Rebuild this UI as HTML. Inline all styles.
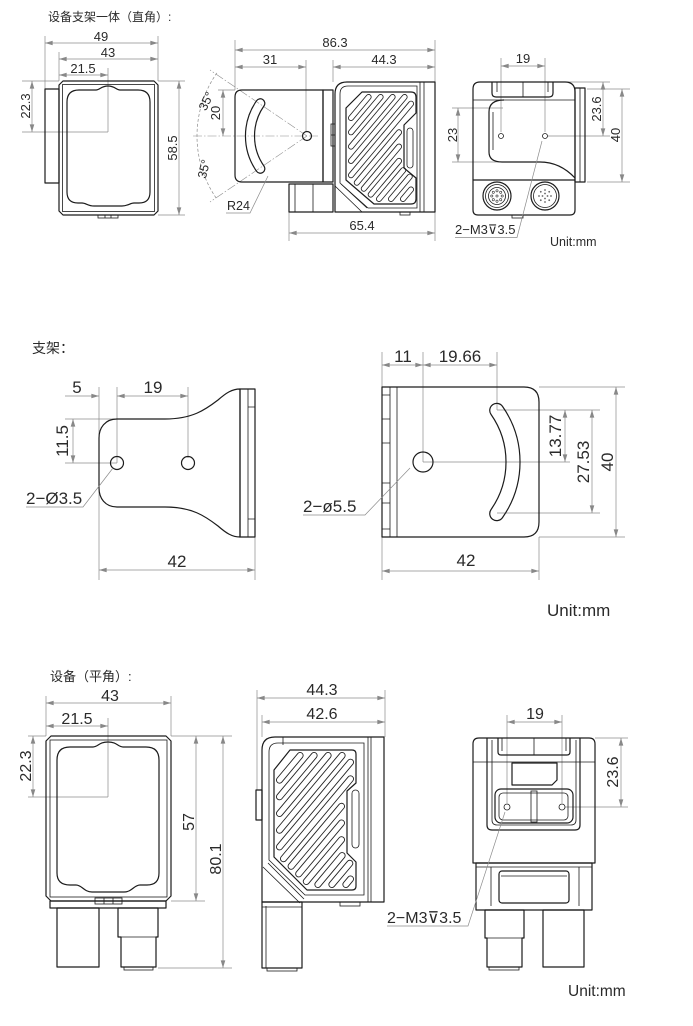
<!DOCTYPE html>
<html><head><meta charset="utf-8"><style>
html,body{margin:0;padding:0;background:#fff;}
svg{display:block;}
text{font-family:"Liberation Sans","Noto Sans CJK SC",sans-serif;fill:#2a2a2a;}
.o{fill:none;stroke:#1c1c1c;stroke-width:1.2;stroke-linejoin:round;}
.t{fill:none;stroke:#1c1c1c;stroke-width:0.8;}
.d{fill:none;stroke:#8c8c8c;stroke-width:0.7;}
.da{fill:none;stroke:#8c8c8c;stroke-width:0.7;marker-start:url(#ar);marker-end:url(#ar);}
.de{fill:none;stroke:#8c8c8c;stroke-width:0.7;marker-end:url(#ar);}
.c{fill:none;stroke:#8c8c8c;stroke-width:0.6;stroke-dasharray:9 2 1.5 2;}
.s12{font-size:12.5px;}
.s13{font-size:13px;}
.s16{font-size:16px;}
.s17{font-size:17px;}
.m{text-anchor:middle;}
.kb{fill:none;stroke:#222;stroke-linecap:round;}
.kw{fill:none;stroke:#fff;stroke-linecap:round;}
</style></head><body>
<svg width="693" height="1026" viewBox="0 0 693 1026" xmlns="http://www.w3.org/2000/svg">
<defs>
<marker id="ar" viewBox="0 0 10 6" refX="10" refY="3" markerWidth="8" markerHeight="4.6" markerUnits="userSpaceOnUse" orient="auto-start-reverse"><path d="M0,0 L10,3 L0,6 Z" fill="#888"/></marker>
</defs>

<!-- ================= SECTION 1 ================= -->
<text x="48" y="21" font-size="12">设备支架一体（直角）:</text>

<!-- front view 1 -->
<path class="d" d="M45 36V89M59 52V81M158 36V81M108 68V132M22 81H59M158 81H185M22 132H108M158 215H185"/>
<path class="da" d="M45 43H158"/>
<path class="da" d="M59 59H158"/>
<path class="da" d="M59 75H108"/>
<path class="da" d="M32 81V132"/>
<path class="da" d="M179 81V215"/>
<text class="s13 m" x="101" y="41">49</text>
<text class="s13 m" x="108" y="57">43</text>
<text class="s13 m" x="83" y="73">21.5</text>
<text class="s13 m" transform="translate(30,106) rotate(-90)">22.3</text>
<text class="s13 m" transform="translate(177,148) rotate(-90)">58.5</text>
<rect class="o" x="45" y="89" width="14" height="94"/>
<polygon class="o" points="63,81 154,81 158,85 158,211 154,215 63,215 59,211 59,85"/>
<rect class="t" x="62.5" y="84.5" width="92" height="127"/>
<path class="o" d="M79 90L96 90C100 90 101 86 108 86C115 86 116 90 120 90L138 90Q150 90 150 102L150 192Q150 203 139 203L134 203C130 203 128 206 122 206L94 206C88 206 86 203 82 203L78 203Q67 203 67 192L67 102Q67 90 79 90Z"/>
<rect class="t" x="98" y="215" width="20" height="3"/>
<path class="t" d="M105 215V218M111 215V218"/>

<!-- side view 1 -->
<path class="d" d="M235 40V90M306 60V132M333 60V82M435 40V241M289 212V241M218 90H235"/>
<path class="da" d="M235 50H435"/>
<path class="da" d="M235 67H306"/>
<path class="da" d="M333 67H435"/>
<path class="da" d="M289 233H435"/>
<path class="da" d="M223 90V136"/>
<text class="s13 m" x="335" y="47">86.3</text>
<text class="s13 m" x="270" y="64">31</text>
<text class="s13 m" x="384" y="64">44.3</text>
<text class="s13 m" x="362" y="230">65.4</text>
<text class="s13 m" transform="translate(220,113) rotate(-90)">20</text>
<path class="c" d="M193 136H318"/>
<path class="c" d="M307 136L210 70M307 136L210 202"/>
<path class="d" stroke-dasharray="3 2" d="M216.9 72.9A110 110 0 0 0 216.9 199.1"/>
<text class="s12 m" transform="translate(210,103) rotate(-64)">35°</text>
<text class="s12 m" transform="translate(208,170) rotate(-76)">35°</text>
<path class="o" d="M242 90H323V182H242Q235 182 235 175V97Q235 90 242 90Z"/>
<rect class="o" x="323" y="90" width="10" height="92"/>
<rect class="t" x="331" y="124" width="4" height="22"/>
<path class="t" d="M331 135H335"/>
<circle class="o" cx="307" cy="136" r="4.5"/>
<path class="o" d="M256.6 100.7A61.5 61.5 0 0 0 256.6 171.3A4.5 4.5 0 0 0 264 166.1A52.5 52.5 0 0 1 264 105.9A4.5 4.5 0 0 0 256.6 100.7Z"/>
<text class="s12" x="227" y="210">R24</text>
<path class="d" d="M226 213H250L268 176"/>
<path class="o" d="M347 82H435V212H335V94Q335 82 347 82Z"/>
<path class="t" d="M420 82V212M424 82V212"/>
<path class="t" d="M348 86H417V208H368L340 183V94Q340 86 348 86Z"/>
<path class="kb" stroke-width="6" d="M351 118L368.6 97M351 132.3L380.6 97M351 146.6L392.6 97M351 160.9L404.6 97M351 175.2L411 103.7M356.8 182.7L399 132.3M363.8 188.7L399 146.6M370.7 194.6L399 160.9M379 199L403.2 170.2M391 199L409.7 176.7M403 199L411 189.5"/>
<path class="kw" stroke-width="4.3" d="M351 118L368.6 97M351 132.3L380.6 97M351 146.6L392.6 97M351 160.9L404.6 97M351 175.2L411 103.7M356.8 182.7L399 132.3M363.8 188.7L399 146.6M370.7 194.6L399 160.9M379 199L403.2 170.2M391 199L409.7 176.7M403 199L411 189.5"/>
<path class="o" d="M362 92H411Q416 92 416 97V113L404 125V168L416 178V199Q416 204 411 204H374L346 180V108Z"/>
<path class="t" d="M346 108L362 92"/>
<rect class="t" x="407" y="128" width="6" height="40" rx="3"/>
<path class="t" d="M335 186L362 212M341 184L367 208"/>
<rect class="o" x="289" y="184" width="44" height="28"/>
<path class="t" d="M295 184V212M313 184V212"/>
<rect class="t" x="400" y="212" width="10" height="3"/>

<!-- rear view 1 -->
<path class="d" d="M501 58V132M545 58V132M452 108H503M452 162H545M568 82H610M548 136H610M587 89H630M587 182H630"/>
<path class="da" d="M501 66H545"/>
<path class="da" d="M458 108V162"/>
<path class="da" d="M603 82V136"/>
<path class="da" d="M622 89V182"/>
<text class="s13 m" x="523" y="63">19</text>
<text class="s13 m" transform="translate(457,135) rotate(-90)">23</text>
<text class="s13 m" transform="translate(601,109) rotate(-90)">23.6</text>
<text class="s13 m" transform="translate(620,135) rotate(-90)">40</text>
<path class="o" d="M473 180V89Q473 82 480 82H565Q575 82 575 92V180"/>
<path class="o" d="M473 180H575V210Q575 215 570 215H478Q473 215 473 210Z"/>
<rect class="o" x="575" y="88" width="10" height="94"/>
<path class="t" d="M580 88V182"/>
<path class="o" d="M492 82V93Q492 97 496 97H549Q553 97 553 93V82"/>
<path class="t" d="M523 82V97M497 82V92M548 82V92"/>
<path class="t" d="M473 100H575"/>
<path class="o" d="M504 100Q489 100 489 112V152Q489 162 502 162H540Q560 162 575 178"/>
<path class="t" d="M493 112V150"/>
<circle class="t" cx="501" cy="136" r="2.5"/>
<circle class="t" cx="545" cy="136" r="2.5"/>
<circle class="o" cx="497" cy="196" r="14"/>
<circle class="t" cx="497" cy="196" r="11.5"/>
<circle class="t" cx="497" cy="196" r="8.5"/>
<g fill="none" stroke="#333" stroke-width="0.6">
<circle cx="497" cy="196" r="1.1"/><circle cx="502.2" cy="196" r="1.1"/><circle cx="500.7" cy="199.7" r="1.1"/><circle cx="497" cy="201.2" r="1.1"/><circle cx="493.3" cy="199.7" r="1.1"/><circle cx="491.8" cy="196" r="1.1"/><circle cx="493.3" cy="192.3" r="1.1"/><circle cx="497" cy="190.8" r="1.1"/><circle cx="500.7" cy="192.3" r="1.1"/>
</g>
<circle class="o" cx="545" cy="196" r="14"/>
<circle class="t" cx="545" cy="196" r="11.5"/>
<g fill="#666">
<circle cx="551" cy="196" r="0.9"/><circle cx="549.2" cy="200.2" r="0.9"/><circle cx="545" cy="202" r="0.9"/><circle cx="540.8" cy="200.2" r="0.9"/><circle cx="539" cy="196" r="0.9"/><circle cx="540.8" cy="191.8" r="0.9"/><circle cx="545" cy="190" r="0.9"/><circle cx="549.2" cy="191.8" r="0.9"/><circle cx="547.5" cy="196" r="0.9"/><circle cx="545" cy="198.5" r="0.9"/><circle cx="542.5" cy="196" r="0.9"/><circle cx="545" cy="193.5" r="0.9"/>
</g>
<rect class="t" x="512" y="215" width="11" height="3"/>
<text class="s13" x="455" y="234">2−M3⊽3.5</text>
<path class="d" d="M455 237.5H517L542 141"/>
<text x="550" y="246" font-size="12.5">Unit:mm</text>

<!-- ================= SECTION 2 ================= -->
<text x="32" y="353" font-size="14">支架：</text>

<!-- bracket front -->
<path class="d" d="M99 387V580M117 387V463M188 387V458M65 419H117M65 463H117M255 537V580"/>
<path class="de" d="M65 396H99"/>
<path class="da" d="M117 396H188"/>
<path class="da" d="M73 419V463"/>
<path class="da" d="M99 570H255"/>
<text class="s17 m" x="77" y="393">5</text>
<text class="s17 m" x="153" y="393">19</text>
<text class="s17 m" transform="translate(68,441) rotate(-90)">11.5</text>
<text class="s17 m" x="177" y="567">42</text>
<path class="o" d="M117 419L165 419C192 419 205 410 218 400C226 393 232 389 240 389L240 537C232 537 226 533 218 526C205 516 192 507 165 507L117 507C105 507 99 498 99 488L99 438C99 428 105 419 117 419Z"/>
<rect class="o" x="240" y="389" width="15" height="148"/>
<path class="t" d="M248 389V537M248 407H255M248 519H255"/>
<circle class="o" cx="117" cy="463" r="6.5"/>
<circle class="o" cx="188" cy="463" r="6.5"/>
<text class="s17" x="26" y="504">2−Ø3.5</text>
<path class="d" d="M26 507H83L113 468"/>

<!-- bracket side -->
<path class="d" d="M382 352V580M423 352V462M497 352V410M539 387H625M497 410H600M423 462H570M497 513H600M539 537H625M539 537V580"/>
<path class="da" d="M382 365H423"/>
<path class="da" d="M423 365H497"/>
<path class="da" d="M565 410V462"/>
<path class="da" d="M592 410V513"/>
<path class="da" d="M616 387V537"/>
<path class="da" d="M382 571H539"/>
<text class="s17 m" x="403" y="362">11</text>
<text class="s17 m" x="460" y="362">19.66</text>
<text class="s17 m" transform="translate(561,436) rotate(-90)">13.77</text>
<text class="s17 m" transform="translate(589,462) rotate(-90)">27.53</text>
<text class="s17 m" transform="translate(613,462) rotate(-90)">40</text>
<text class="s17 m" x="466" y="566">42</text>
<path class="o" d="M382 387H524Q539 387 539 402V522Q539 537 524 537H382Z"/>
<path class="t" d="M390 387V537M397 387V537M382 395H390M382 419H390M382 443H390M382 483H390M382 503H390M382 529H390"/>
<circle class="o" cx="423" cy="462" r="10"/>
<path class="o" d="M491 414.4A7 7 0 0 1 502.5 406.4A97 97 0 0 1 502.5 517.6A7 7 0 0 1 491 509.6A83 83 0 0 0 491 414.4Z"/>
<text class="s17" x="303" y="512">2−ø5.5</text>
<path class="d" d="M303 515H365L410 468"/>
<text x="547" y="616" font-size="17">Unit:mm</text>

<!-- ================= SECTION 3 ================= -->
<text x="50" y="681" font-size="13">设备（平角）:</text>

<!-- front view 3 -->
<path class="d" d="M46 696V736M171 696V736M108 718V797M28 736H46M28 797H108M171 736H232M171 901H205M158 968H232"/>
<path class="da" d="M46 703H171"/>
<path class="da" d="M46 726H108"/>
<path class="da" d="M33 736V797"/>
<path class="da" d="M196 736V901"/>
<path class="da" d="M223 736V968"/>
<text class="s16 m" x="110" y="701">43</text>
<text class="s16 m" x="77" y="724">21.5</text>
<text class="s16 m" transform="translate(31,766) rotate(-90)">22.3</text>
<text class="s16 m" transform="translate(194,822) rotate(-90)">57</text>
<text class="s16 m" transform="translate(221,859) rotate(-90)">80.1</text>
<polygon class="o" points="51,736 166,736 171,741 171,896 166,901 51,901 46,896 46,741"/>
<rect class="t" x="50" y="740" width="117" height="157"/>
<path class="o" d="M70 747L93 747C98 747 99 742 108 742C117 742 118 747 123 747L146 747Q159 747 159 760L159 873Q159 885 147 885L140 885C134 885 132 892 124 892L92 892C84 892 82 885 76 885L70 885Q57 885 57 873L57 760Q57 747 70 747Z"/>
<rect class="o" x="50" y="901" width="116" height="7"/>
<rect class="t" x="95" y="898" width="27" height="6"/>
<path class="t" d="M104 898V904M113 898V904"/>
<rect class="o" x="57" y="908" width="42" height="59"/>
<path class="o" d="M118 908H158V937H156V967H121V937H118Z"/>
<path class="t" d="M118 937H158"/>
<rect class="t" x="124" y="967" width="29" height="3"/>

<!-- side view 3 -->
<path class="d" d="M257 690V790M262 715V737M385 690V737"/>
<path class="da" d="M257 698H385"/>
<path class="da" d="M262 722H385"/>
<text class="s16 m" x="322" y="695">44.3</text>
<text class="s16 m" x="322" y="719">42.6</text>
<path class="o" d="M275 737H384V902H262V750Q262 737 275 737Z"/>
<path class="t" d="M283 737V745M368 737V902M371 737V902"/>
<rect class="o" x="256" y="790" width="6" height="30"/>
<path class="t" d="M278 743H364V895H305L269 860V752Q269 743 278 743Z"/>
<path class="kb" stroke-width="7" d="M279.5 780.1L300.1 755.5M279.5 796.8L314.1 755.5M279.5 813.5L328.1 755.5M279.5 830.2L342.1 755.5M279.5 846.9L350.5 762.2M283.5 858.7L350.5 778.9M291.1 866.3L341.5 806.3M298.7 873.9L341.5 823M306.3 881.5L341.5 839.7M317.9 884.5L342.1 855.6M331.9 884.5L349.8 863.3M345.9 884.5L350.5 879"/>
<path class="kw" stroke-width="5.2" d="M279.5 780.1L300.1 755.5M279.5 796.8L314.1 755.5M279.5 813.5L328.1 755.5M279.5 830.2L342.1 755.5M279.5 846.9L350.5 762.2M283.5 858.7L350.5 778.9M291.1 866.3L341.5 806.3M298.7 873.9L341.5 823M306.3 881.5L341.5 839.7M317.9 884.5L342.1 855.6M331.9 884.5L349.8 863.3M345.9 884.5L350.5 879"/>
<path class="o" d="M290 750H352Q356 750 356 754V783L347 791V853L356 862V886Q356 890 352 890H307L274 857V770Z"/>
<rect class="t" x="352" y="790" width="7" height="58" rx="3.5"/>
<path class="t" d="M263 867L300 903M268 863L304 899"/>
<path class="o" d="M262 902H302V968H262Z"/>
<path class="t" d="M266 906V968M262 907H302"/>
<rect class="t" x="267" y="968" width="30" height="3"/>
<rect class="t" x="340" y="902" width="20" height="4"/>

<!-- rear view 3 -->
<path class="d" d="M507 715V803M562 715V803M595 738H628M565 807H628"/>
<path class="da" d="M507 722H562"/>
<path class="da" d="M621 738V807"/>
<text class="s16 m" x="535" y="719">19</text>
<text class="s16 m" transform="translate(618,772) rotate(-90)">23.6</text>
<path class="o" d="M473 863V744Q473 738 479 738H589Q595 738 595 744V863Z"/>
<path class="o" d="M476 863H592V910H476Z"/>
<path class="t" d="M473 762H595M476 867H592M491 867V906M579 867V906"/>
<path class="o" d="M487 738V825Q487 830 492 830H575Q580 830 580 825V738"/>
<path class="t" d="M492 740V820Q492 825 497 825H571Q576 825 576 820V740"/>
<path class="o" d="M498 738V752Q498 755 501 755H567Q570 755 570 752V738"/>
<path class="t" d="M534 738V755M502 738V751M566 738V751"/>
<path class="o" d="M512 763H557V780L552 785H512Z"/>
<rect class="o" x="495" y="789" width="78" height="34" rx="6"/>
<rect class="t" x="499" y="793" width="69" height="27" rx="4"/>
<rect class="t" x="531" y="791" width="6" height="31"/>
<circle class="t" cx="507" cy="807" r="3"/>
<circle class="t" cx="562" cy="807" r="3"/>
<rect class="o" x="499" y="871" width="70" height="32" rx="3"/>
<path class="t" d="M501 876H567"/>
<path class="o" d="M485 910H524V938H522V967H487V938H485Z"/>
<path class="t" d="M485 938H524"/>
<rect class="t" x="489" y="967" width="30" height="3"/>
<rect class="o" x="543" y="910" width="41" height="57"/>
<text class="s16" x="387" y="923">2−M3⊽3.5</text>
<path class="d" d="M387 926H468L505 812"/>
<text x="568" y="996" font-size="15.5">Unit:mm</text>
</svg>
</body></html>
